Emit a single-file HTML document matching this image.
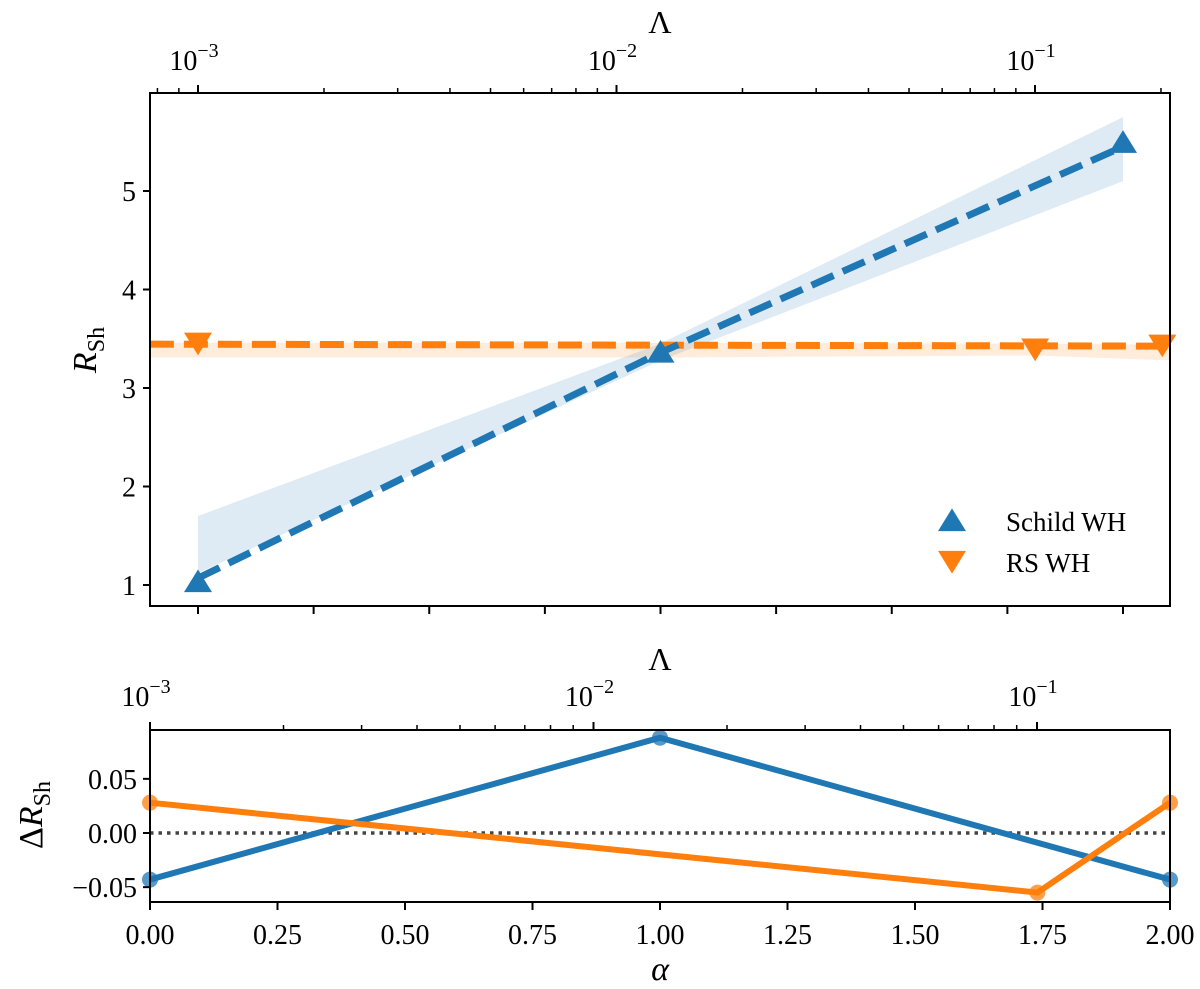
<!DOCTYPE html>
<html><head><meta charset="utf-8"><style>
html,body{margin:0;padding:0;background:#fff;}
svg{display:block;font-family:"Liberation Serif",serif;}
</style></head><body>
<svg id="chart" width="1200" height="989" viewBox="0 0 1200 989" xmlns="http://www.w3.org/2000/svg"></svg>
<script>
// ---- data ----
const schildAlpha = [0, 1, 2];
const schildR = [1.03, 3.36, 5.49];
const schildLineR = [1.07, 3.36, 5.45];
const schildUpper = [1.7, 3.45, 5.75];
const schildLower = [1.12, 3.28, 5.1];
const rsAlpha = [0, 1.81, 2.085];
const rsR = [3.46, 3.40, 3.44];
const rsLineAlpha = [-0.104, 2.106];
const rsLineR = [3.445, 3.425];
const rsBandAlpha = [-0.104, 1.0, 1.81, 2.106];
const rsUpper = [3.46, 3.46, 3.45, 3.44];
const rsLower = [3.31, 3.31, 3.33, 3.28];
const dAlpha = [0, 1, 2];
const dSchild = [-0.043, 0.088, -0.043];
const dRsAlpha = [0, 1.74, 2];
const dRs = [0.028, -0.055, 0.028];
const topYTicks = [1, 2, 3, 4, 5];
const botYTicks = [0.05, 0, -0.05];
const botYTickLabels = ["0.05", "0.00", "\u22120.05"];
const alphaTicks = [0, 0.25, 0.5, 0.75, 1, 1.25, 1.5, 1.75, 2];
const alphaTickLabels = ["0.00","0.25","0.50","0.75","1.00","1.25","1.50","1.75","2.00"];
const lamDecades = [-3, -2, -1];

const svg = document.getElementById('chart');
const NS = 'http://www.w3.org/2000/svg';
function mk(tag, attrs, parent) {
  const e = document.createElementNS(NS, tag);
  for (const k in attrs) e.setAttribute(k, attrs[k]);
  (parent || svg).appendChild(e);
  return e;
}
const BLUE = '#1f77b4', ORANGE = '#ff7f0e';

// ---- axis functions ----
const L = 150, R = 1170;
const tT = 93, tB = 606;
const bT = 730, bB = 902;
const xTop = a => 198 + (a) * (1123 - 198) / 2;
const yTop = v => 585 - (v - 1) * 98.5;
const lamTop = lg => 198 + (lg + 3) * 418.5;
const xBot = a => L + a * (R - L) / 2;
const yBot = v => 833 - v * 1083;
const lamBot = lg => L + (lg + 3) * 443.5;

function tri(cx, cy, s, up, color, name) {
  const h = s * 0.9;
  const pts = up ? `${cx},${cy - h} ${cx - s},${cy + h*0.8} ${cx + s},${cy + h*0.8}`
                 : `${cx},${cy + h} ${cx - s},${cy - h*0.8} ${cx + s},${cy - h*0.8}`;
  const p = mk('polygon', {points: pts, fill: color});
  
  
  return p;
}
function text(x, y, str, size, anchor, name) {
  const t = mk('text', {x: x, y: y, 'font-size': size, 'text-anchor': anchor || 'middle', fill: '#000'});
  t.textContent = str;
  
  
  return t;
}
function powLabel(x, y, exp, name) {
  const t = mk('text', {x: x, y: y, 'font-size': 28, 'text-anchor': 'middle', fill: '#000'});
  
  
  const a = mk('tspan', {}, t); a.textContent = '10';
  const b = mk('tspan', {dy: -13, 'font-size': 20}, t); b.textContent = '\u2212' + Math.abs(exp);
}

// ================= TOP PANEL =================
const gTop = mk('g', {});


mk('clipPath', {id: 'cTop'}).appendChild((() => { const r = document.createElementNS(NS,'rect'); r.setAttribute('x',L); r.setAttribute('y',tT); r.setAttribute('width',R-L); r.setAttribute('height',tB-tT); return r; })());

let up = schildAlpha.map((a,i)=>`${xTop(a)},${yTop(schildUpper[i])}`);
let lo = schildAlpha.map((a,i)=>`${xTop(a)},${yTop(schildLower[i])}`).reverse();
let bandS = mk('polygon', {points: up.concat(lo).join(' '), fill: BLUE, 'fill-opacity': 0.15, 'clip-path': 'url(#cTop)'}, gTop);


up = rsBandAlpha.map((a,i)=>`${xTop(a)},${yTop(rsUpper[i])}`);
lo = rsBandAlpha.map((a,i)=>`${xTop(a)},${yTop(rsLower[i])}`).reverse();
let bandR = mk('polygon', {points: up.concat(lo).join(' '), fill: ORANGE, 'fill-opacity': 0.15, 'clip-path': 'url(#cTop)'}, gTop);



let lR = mk('polyline', {points: rsLineAlpha.map((a,i)=>`${xTop(a)},${yTop(rsLineR[i])}`).join(' '), fill: 'none', stroke: ORANGE, 'stroke-width': 7, 'stroke-dasharray': '24 10', 'clip-path': 'url(#cTop)'}, gTop);


let lS = mk('polyline', {points: schildAlpha.map((a,i)=>`${xTop(a)},${yTop(schildLineR[i])}`).join(' '), fill: 'none', stroke: BLUE, 'stroke-width': 7, 'stroke-dasharray': '24 10', 'clip-path': 'url(#cTop)'}, gTop);



rsAlpha.forEach((a,i)=>tri(xTop(a), yTop(rsR[i]), 14, false, ORANGE, 'rs-marker'));
schildAlpha.forEach((a,i)=>tri(xTop(a), yTop(schildR[i]), 14, true, BLUE, 'schild-marker'));

let fT = mk('rect', {x: L, y: tT, width: R-L, height: tB-tT, fill: 'none', stroke: '#000', 'stroke-width': 2});



topYTicks.forEach(v => {
  const y = yTop(v);
  mk('line', {x1: L-7, x2: L, y1: y, y2: y, stroke: '#000', 'stroke-width': 2});
  text(L-14, y+10, String(v), 28, 'end', 'y-tick-label');
});
alphaTicks.forEach(a => mk('line', {x1: xTop(a), x2: xTop(a), y1: tB, y2: tB+8, stroke: '#000', 'stroke-width': 2}));
for (let d = -4; d <= -1; d++) {
  for (let m = 1; m <= 9; m++) {
    const lg = d + Math.log10(m);
    const x = lamTop(lg);
    if (x < L-0.5 || x > R+0.5) continue;
    const major = m === 1;
    mk('line', {x1: x, x2: x, y1: tT, y2: tT - (major ? 8 : 5), stroke: '#000', 'stroke-width': major ? 2 : 1.5});
  }
}
lamDecades.forEach(d => powLabel(lamTop(d)-4, 70, d, 'top-lambda-tick-label'));
text(660, 33, '\u039b', 32, 'middle', 'top-lambda-axis-title');
let yl = mk('text', {x: 0, y: 0, 'font-size': 34, 'text-anchor': 'middle', transform: 'translate(96,350) rotate(-90)', fill: '#000'});


let t1 = mk('tspan', {'font-style': 'italic'}, yl); t1.textContent = 'R';
let t2 = mk('tspan', {dy: 8, 'font-size': 24}, yl); t2.textContent = 'Sh';

const lg = mk('g', {});


tri(952, 521, 14, true, BLUE, 'legend-schild-marker');
tri(952, 561, 14, false, ORANGE, 'legend-rs-marker');
text(1006, 531, 'Schild WH', 27, 'start', 'legend-schild-label');
text(1006, 572, 'RS WH', 27, 'start', 'legend-rs-label');

// ================= BOTTOM PANEL =================
let zl = mk('line', {x1: L, x2: R, y1: yBot(0), y2: yBot(0), stroke: '#444', 'stroke-width': 3.5, 'stroke-dasharray': '3.5 5'});


let dS = mk('polyline', {points: dAlpha.map((a,i)=>`${xBot(a)},${yBot(dSchild[i])}`).join(' '), fill: 'none', stroke: BLUE, 'stroke-width': 6}, svg);


let dR = mk('polyline', {points: dRsAlpha.map((a,i)=>`${xBot(a)},${yBot(dRs[i])}`).join(' '), fill: 'none', stroke: ORANGE, 'stroke-width': 6}, svg);


dAlpha.forEach((a,i)=>{ const c = mk('circle', {cx: xBot(a), cy: yBot(dSchild[i]), r: 8, fill: BLUE, 'fill-opacity': 0.75});
  
   });
dRsAlpha.forEach((a,i)=>{ const c = mk('circle', {cx: xBot(a), cy: yBot(dRs[i]), r: 8, fill: ORANGE, 'fill-opacity': 0.75});
  
   });

let fB = mk('rect', {x: L, y: bT, width: R-L, height: bB-bT, fill: 'none', stroke: '#000', 'stroke-width': 2});


botYTicks.forEach((v,i) => {
  const y = yBot(v);
  mk('line', {x1: L-7, x2: L, y1: y, y2: y, stroke: '#000', 'stroke-width': 2});
  text(L-13, y+10, botYTickLabels[i], 28, 'end', 'delta-y-tick-label');
});
alphaTicks.forEach((a,i) => {
  mk('line', {x1: xBot(a), x2: xBot(a), y1: bB, y2: bB+8, stroke: '#000', 'stroke-width': 2});
  text(xBot(a), 944, alphaTickLabels[i], 28, 'middle', 'x-tick-label');
});
for (let d = -3; d <= -1; d++) {
  for (let m = 1; m <= 9; m++) {
    const x = lamBot(d + Math.log10(m));
    if (x < L-0.5 || x > R+0.5) continue;
    const major = m === 1;
    mk('line', {x1: x, x2: x, y1: bT, y2: bT - (major ? 8 : 5), stroke: '#000', 'stroke-width': major ? 2 : 1.5});
  }
}
lamDecades.forEach(d => powLabel(lamBot(d)-4, 706, d, 'bottom-lambda-tick-label'));
text(660, 670, '\u039b', 32, 'middle', 'bottom-lambda-axis-title');
let xa = text(660, 980, '\u03b1', 34, 'middle', 'x-axis-title');
xa.setAttribute('font-style', 'italic');
let dyl = mk('text', {x: 0, y: 0, 'font-size': 34, 'text-anchor': 'middle', transform: 'translate(42,815) rotate(-90)', fill: '#000'});


let d1 = mk('tspan', {}, dyl); d1.textContent = '\u0394';
let d2 = mk('tspan', {'font-style': 'italic'}, dyl); d2.textContent = 'R';
let d3 = mk('tspan', {dy: 8, 'font-size': 24}, dyl); d3.textContent = 'Sh';
</script>
</body></html>
